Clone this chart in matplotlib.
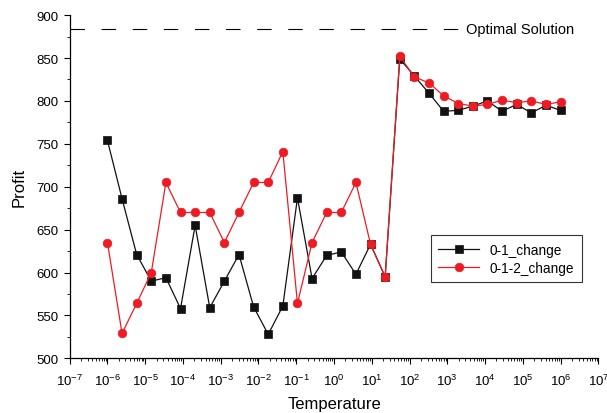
import numpy as np
import matplotlib
matplotlib.use("Agg")
import matplotlib.pyplot as plt
from matplotlib.ticker import LogLocator, MultipleLocator, NullFormatter

plt.rcParams['font.family'] = ['Liberation Sans', 'DejaVu Sans']
plt.rcParams['mathtext.default'] = 'regular'

# temperature grid (32 log-spaced values from 1e-6 to 1e6)
temperature = np.logspace(-6, 6, 32)

change_01 = [754, 686, 621, 590, 594, 558, 655, 559, 590, 621, 560, 528,
             561, 687, 593, 620, 624, 598, 633, 595, 849, 829, 809, 788,
             789, 794, 800, 788, 796, 786, 795, 789]
change_012 = [635, 529, 564, 600, 705, 670, 670, 670, 635, 670, 705, 705,
              741, 564, 635, 670, 670, 705, 633, 595, 852, 828, 821, 806,
              797, 794, 796, 801, 798, 800, 796, 799]
optimal = 884

fig = plt.figure(figsize=(6.07, 4.14), dpi=100)
ax = fig.add_axes([0.1148, 0.132, 0.8709, 0.829])

ax.plot(temperature, change_01, color='#111111', lw=0.9, marker='s', ms=5.4,
        mew=0.5, label='0-1_change', zorder=3)
ax.plot(temperature, change_012, color='#ED1C24', lw=0.9, marker='o', ms=6.2,
        mew=0.5, label='0-1-2_change', zorder=3)

ax.plot([1e-7, 10**3.28], [optimal, optimal], color='black', lw=0.8,
        dashes=(13, 15))
ax.text(10**3.5, optimal, 'Optimal Solution', fontsize=10.5, va='center', ha='left')

ax.set_xscale('log')
ax.set_xlim(1e-7, 1e7)
ax.set_ylim(500, 900)
ax.xaxis.set_major_locator(LogLocator(base=10, numticks=20))
ax.xaxis.set_minor_locator(LogLocator(base=10, subs=np.arange(2, 10), numticks=200))
ax.xaxis.set_minor_formatter(NullFormatter())
ax.yaxis.set_major_locator(MultipleLocator(50))
ax.yaxis.set_minor_locator(MultipleLocator(25))

for s in ['top', 'right']:
    ax.spines[s].set_visible(False)
for s in ['left', 'bottom']:
    ax.spines[s].set_linewidth(0.9)

ax.tick_params(which='major', direction='out', length=4.5, width=0.8, labelsize=9.5)
ax.tick_params(axis='x', which='major', pad=6)
ax.tick_params(which='minor', direction='out', length=2.5, width=0.6)

ax.set_xlabel('Temperature', fontsize=12, labelpad=6)
ax.set_ylabel('Profit', fontsize=12, labelpad=7)

leg = ax.legend(loc='lower left', bbox_to_anchor=(0.683, 0.222), fontsize=9.8,
                frameon=True, fancybox=False, edgecolor='black', handlelength=3.0,
                borderpad=0.55, labelspacing=0.3, borderaxespad=0)
leg.get_frame().set_linewidth(0.8)

fig.savefig('out.png', dpi=100)
